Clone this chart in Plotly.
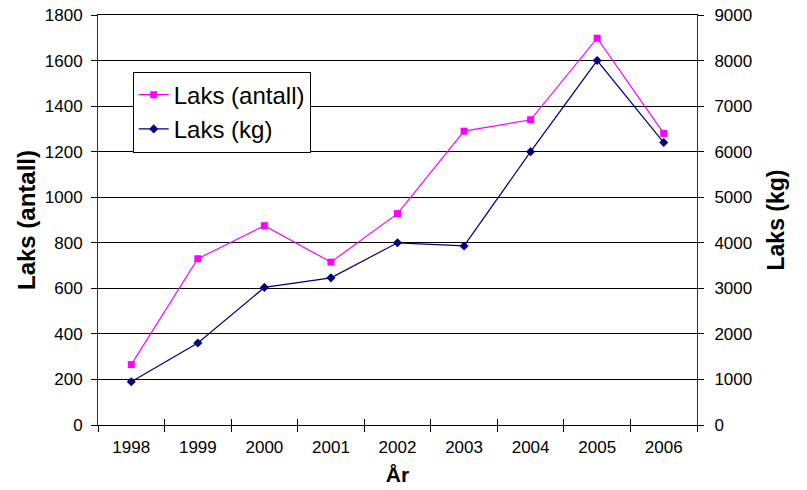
import plotly.graph_objects as go

years = ["1998", "1999", "2000", "2001", "2002", "2003", "2004", "2005", "2006"]
laks_antall = [265, 730, 875, 715, 928, 1290, 1340, 1698, 1280]
laks_kg = [950, 1800, 3020, 3230, 4000, 3930, 6000, 8000, 6200]

FONT = "Liberation Sans, Arial, sans-serif"

fig = go.Figure()
fig.add_trace(go.Scatter(
    x=years, y=laks_antall, name="Laks (antall)", mode="lines+markers",
    line=dict(color="#FF00FF", width=1.2),
    marker=dict(symbol="square", size=7, color="#FF00FF"),
    yaxis="y", xaxis="x"))
fig.add_trace(go.Scatter(
    x=years, y=laks_kg, name="Laks (kg)", mode="lines+markers",
    line=dict(color="#000080", width=1.2),
    marker=dict(symbol="diamond", size=7, color="#000080"),
    yaxis="y2", xaxis="x"))
# invisible helper trace so the inner-tick x axis has categories
fig.add_trace(go.Scatter(x=years, y=laks_antall, xaxis="x2", yaxis="y",
                         mode="none", showlegend=False, hoverinfo="skip"))

fig.update_layout(
    width=807, height=490,
    margin=dict(l=98, r=110, t=15, b=65, autoexpand=False),
    paper_bgcolor="white", plot_bgcolor="white",
    font=dict(family=FONT, size=17, color="black"),
    showlegend=True,
    legend=dict(
        x=0.058, y=0.862, xanchor="left", yanchor="top",
        bgcolor="white", bordercolor="black", borderwidth=1,
        font=dict(family=FONT, size=24, color="black"),
        itemwidth=30, tracegroupgap=0,
    ),
    xaxis=dict(
        type="category", range=[-0.5, 8.5],
        showline=True, linecolor="black", linewidth=1, mirror=True,
        ticks="outside", tickson="boundaries", ticklen=6, tickcolor="black",
        ticklabelstandoff=7,
        showgrid=False, zeroline=False, automargin=False,
        tickfont=dict(family=FONT, size=17),
        title=dict(text="<b>År</b>", font=dict(family=FONT, size=21), standoff=10),
    ),
    xaxis2=dict(
        type="category", range=[-0.5, 8.5], overlaying="x", anchor="y", side="bottom",
        showline=False, ticks="inside", tickson="boundaries", ticklen=6, tickcolor="black",
        showticklabels=False, showgrid=False, zeroline=False, matches="x",
    ),
    yaxis=dict(
        range=[0, 1800], dtick=200, tick0=0,
        showline=True, linecolor="#333333", linewidth=1,
        ticks="outside", ticklen=6, tickcolor="black",
        ticklabelstandoff=5, ticklabeloverflow="allow",
        showgrid=True, gridcolor="black", gridwidth=1,
        zeroline=False, automargin=False,
        tickfont=dict(family=FONT, size=17),
        title=dict(text="<b>Laks (antall)</b>", font=dict(family=FONT, size=24), standoff=2),
    ),
    yaxis2=dict(
        range=[0, 9000], dtick=1000, tick0=0,
        overlaying="y", side="right", anchor="x",
        showline=True, linecolor="#333333", linewidth=1,
        ticks="outside", ticklen=6, tickcolor="black",
        ticklabelstandoff=7, ticklabeloverflow="allow",
        showgrid=False, zeroline=False, automargin=False,
        tickfont=dict(family=FONT, size=17),
        title=dict(text="<b>Laks (kg)</b>", font=dict(family=FONT, size=23), standoff=16),
    ),
)

fig.write_html(
    "out.html",
    config={"displayModeBar": False},
    post_script="document.body.style.margin='0';document.documentElement.style.overflow='hidden';",
)
